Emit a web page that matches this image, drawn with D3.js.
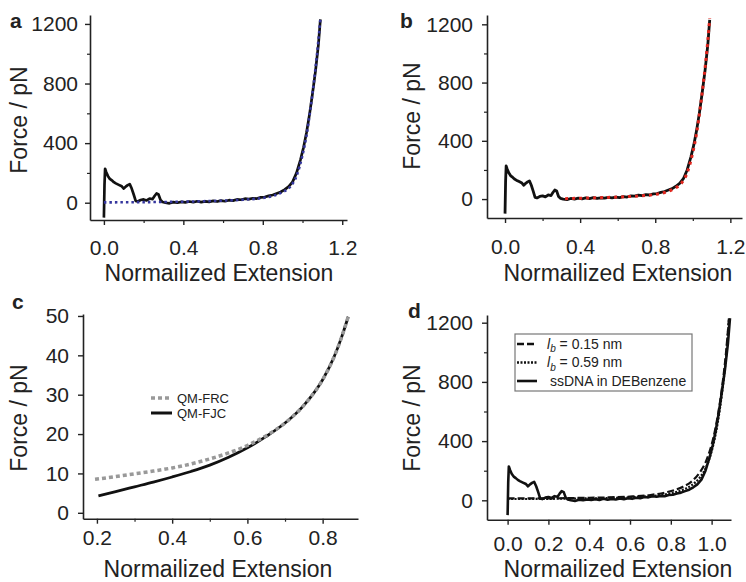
<!DOCTYPE html>
<html>
<head>
<meta charset="utf-8">
<script src="https://cdn.jsdelivr.net/npm/d3@7/dist/d3.min.js"></script>
<style>
  body { margin: 0; background: #fff; }
  svg text { font-family: "Liberation Sans", Arial, sans-serif; fill: #222; }
</style>
</head>
<body>
<div id="chart"></div>
<script>
// measured force-extension trace (same trace in a, b, d)
const expX = [0, 0.003, 0.006, 0.012, 0.02, 0.03, 0.04, 0.05, 0.06, 0.075, 0.09, 0.1, 0.11, 0.12, 0.13, 0.14, 0.15, 0.16, 0.17, 0.185, 0.2, 0.215, 0.23, 0.245, 0.255, 0.265, 0.275, 0.285, 0.295, 0.31, 0.33, 0.35, 0.37, 0.39, 0.41, 0.43, 0.45, 0.47, 0.49, 0.51, 0.53, 0.55, 0.57, 0.59, 0.61, 0.63, 0.65, 0.67, 0.69, 0.71, 0.73, 0.75, 0.77, 0.79, 0.81, 0.83, 0.85, 0.87, 0.89, 0.91, 0.93, 0.95, 0.97, 0.99, 1.005, 1.02, 1.035, 1.05, 1.065, 1.08, 1.09];
const expF = [-100, 120, 228, 205, 180, 160, 150, 138, 130, 120, 110, 95, 108, 118, 125, 95, 55, 12, 8, 18, 22, 15, 28, 24, 45, 62, 55, 18, 5, 0, -4, 4, 0, 6, 2, 8, 3, 10, 4, 9, 6, 12, 8, 14, 10, 17, 14, 22, 20, 27, 24, 30, 28, 36, 38, 46, 52, 62, 72, 88, 108, 140, 200, 290, 370, 470, 590, 730, 880, 1060, 1230];

// panel a fit (blue dotted)
const fitAX = [0, 0.1, 0.2, 0.3, 0.4, 0.5, 0.6, 0.7, 0.8, 0.85, 0.9, 0.94, 0.97, 1.0, 1.02, 1.04, 1.06, 1.08, 1.09];
const fitAF = [2, 3, 4, 5, 7, 10, 14, 20, 32, 45, 72, 110, 180, 320, 450, 630, 840, 1090, 1235];

// panel b fit (red dotted)
const fitBX = [0.32, 0.4, 0.5, 0.6, 0.7, 0.8, 0.85, 0.9, 0.94, 0.97, 1.0, 1.02, 1.04, 1.06, 1.08, 1.09];
const fitBF = [3, 6, 9, 14, 20, 32, 45, 72, 110, 180, 320, 450, 630, 840, 1090, 1240];

// panel c models
const frcX = [0.195, 0.25, 0.3, 0.35, 0.4, 0.45, 0.5, 0.55, 0.6, 0.65, 0.7, 0.75, 0.8, 0.83, 0.85, 0.868];
const frcF = [8.5, 9.2, 9.9, 10.6, 11.4, 12.4, 13.7, 15.2, 17.1, 19.6, 22.8, 27.3, 33.8, 39.5, 44.5, 49.8];
const fjcX = [0.204, 0.25, 0.3, 0.35, 0.4, 0.45, 0.5, 0.55, 0.6, 0.65, 0.7, 0.75, 0.8, 0.83, 0.85, 0.868];
const fjcF = [4.3, 5.4, 6.6, 7.8, 9.1, 10.5, 12.1, 14.1, 16.5, 19.4, 22.8, 27.3, 33.8, 39.5, 44.5, 49.8];

// panel d models
const lb015X = [0, 0.05, 0.1, 0.15, 0.2, 0.3, 0.4, 0.5, 0.6, 0.7, 0.78, 0.86, 0.9, 0.94, 0.97, 0.99, 1.01, 1.03, 1.05, 1.07, 1.085];
const lb015F = [13, 13, 13, 13, 13, 15, 17, 20, 25, 36, 55, 92, 125, 185, 255, 330, 430, 570, 750, 990, 1230];
const lb059X = [0, 0.05, 0.1, 0.15, 0.2, 0.3, 0.4, 0.5, 0.6, 0.7, 0.78, 0.86, 0.9, 0.94, 0.97, 0.99, 1.01, 1.03, 1.05, 1.07, 1.085];
const lb059F = [9, 9, 9, 10, 10, 12, 13, 16, 20, 28, 42, 72, 100, 150, 215, 285, 385, 525, 715, 960, 1225];

// ticks
const forceTicks = [0, 400, 800, 1200];
const forceMinor = [200, 600, 1000];
const extTicksAB = [0, 0.4, 0.8, 1.2];
const extMinorAB = [0.2, 0.6, 1.0];
const extTicksC = [0.2, 0.4, 0.6, 0.8];
const extMinorC = [0.3, 0.5, 0.7];
const forceTicksC = [0, 10, 20, 30, 40, 50];
const extTicksD = [0, 0.2, 0.4, 0.6, 0.8, 1.0];

const width = 746, height = 582;
const svg = d3.select('#chart').append('svg')
    .attr('width', width)
    .attr('height', height);

const zip = (xs, ys) => xs.map((x, i) => [x, ys[i]]);

function drawPanel(p) {
    const x = d3.scaleLinear().domain(p.xDom).range(p.xRange);
    const y = d3.scaleLinear().domain(p.yDom).range(p.yRange);
    const g = svg.append('g');

    // axes
    const xAxis = g.append('g')
        .attr('transform', `translate(0,${p.yRange[0]})`)
        .call(d3.axisBottom(x).tickValues(p.xTicks).tickFormat(d3.format('.1f'))
            .tickSize(5).tickSizeOuter(0).tickPadding(p.xPad));
    const yAxis = g.append('g')
        .attr('transform', `translate(${p.xRange[0]},0)`)
        .call(d3.axisLeft(y).tickValues(p.yTicks).tickFormat(d3.format('d'))
            .tickSize(5).tickSizeOuter(0).tickPadding(p.yPad));
    [xAxis, yAxis].forEach(a => {
        a.select('.domain').attr('stroke', '#222').attr('stroke-width', 1.6);
        a.selectAll('.tick line').attr('stroke', '#222').attr('stroke-width', 1.4);
        a.selectAll('.tick text').attr('font-size', 21).attr('fill', '#222');
    });
    if (p.xMinor) {
        g.append('g').attr('transform', `translate(0,${p.yRange[0]})`)
            .call(d3.axisBottom(x).tickValues(p.xMinor).tickFormat('').tickSize(3).tickSizeOuter(0))
            .call(a => a.select('.domain').remove())
            .selectAll('line').attr('stroke', '#222').attr('stroke-width', 1.2);
    }
    if (p.yMinor) {
        g.append('g').attr('transform', `translate(${p.xRange[0]},0)`)
            .call(d3.axisLeft(y).tickValues(p.yMinor).tickFormat('').tickSize(3).tickSizeOuter(0))
            .call(a => a.select('.domain').remove())
            .selectAll('line').attr('stroke', '#222').attr('stroke-width', 1.2);
    }

    // labels
    g.append('text')
        .attr('x', p.letter[0]).attr('y', p.letter[1])
        .attr('font-size', 21).attr('font-weight', 'bold')
        .text(p.id);
    g.append('text')
        .attr('transform', `translate(${p.yLab[0]},${p.yLab[1]}) rotate(-90)`)
        .attr('text-anchor', 'middle')
        .attr('font-size', 23)
        .text('Force / pN');
    g.append('text')
        .attr('x', p.xLab[0]).attr('y', p.xLab[1])
        .attr('text-anchor', 'middle')
        .attr('font-size', 23)
        .text('Normailized Extension');

    // series
    p.series.forEach(s => {
        const line = d3.line()
            .x(d => x(d[0]))
            .y(d => y(d[1]))
            .curve(s.smooth ? d3.curveMonotoneX : d3.curveLinear);
        g.append('path')
            .datum(zip(s.xs, s.ys))
            .attr('d', line)
            .attr('fill', 'none')
            .attr('stroke', s.color)
            .attr('stroke-width', s.width)
            .attr('stroke-dasharray', s.dash || null)
            .attr('stroke-linejoin', 'round');
    });
    return g;
}

drawPanel({
    id: 'a', xDom: [-0.07, 1.224], xRange: [90, 347], yDom: [-116, 1260], yRange: [220, 15],
    xTicks: extTicksAB, xMinor: extMinorAB, yTicks: forceTicks, yMinor: forceMinor,
    xPad: 15, yPad: 7, letter: [10, 28], yLab: [27, 120], xLab: [219, 281],
    series: [
        { xs: expX, ys: expF, color: '#111', width: 2.7 },
        { xs: fitAX, ys: fitAF, color: '#35369e', width: 2.6, dash: '2.5,3', smooth: true }
    ]
});

drawPanel({
    id: 'b', xDom: [-0.096, 1.262], xRange: [487, 742], yDom: [-130, 1264], yRange: [218, 15],
    xTicks: extTicksAB, xMinor: extMinorAB, yTicks: forceTicks, yMinor: forceMinor,
    xPad: 16, yPad: 9, letter: [400, 28], yLab: [420, 116], xLab: [618, 281],
    series: [
        { xs: expX, ys: expF, color: '#111', width: 2.8 },
        { xs: fitBX, ys: fitBF, color: '#e0261e', width: 3, dash: '3,4', smooth: true }
    ]
});

const gc = drawPanel({
    id: 'c', xDom: [0.163, 0.894], xRange: [83, 358], yDom: [-1.5, 50.5], yRange: [518.7, 314],
    xTicks: extTicksC, xMinor: extMinorC, yTicks: forceTicksC, yMinor: null,
    xPad: 6, yPad: 9, letter: [12, 309], yLab: [27, 418], xLab: [218, 577],
    series: [
        { xs: fjcX, ys: fjcF, color: '#111', width: 2.8, smooth: true },
        { xs: frcX, ys: frcF, color: '#999', width: 3.5, dash: '4,3', smooth: true }
    ]
});

const gd = drawPanel({
    id: 'd', xDom: [-0.101, 1.095], xRange: [487, 731], yDom: [-131, 1252], yRange: [519.7, 315],
    xTicks: extTicksD, xMinor: null, yTicks: forceTicks, yMinor: forceMinor,
    xPad: 11, yPad: 9, letter: [408, 318], yLab: [420, 418], xLab: [618, 577],
    series: [
        { xs: expX, ys: expF, color: '#111', width: 2.6 },
        { xs: lb015X, ys: lb015F, color: '#111', width: 2.2, dash: '7,3', smooth: true },
        { xs: lb059X, ys: lb059F, color: '#111', width: 2.2, dash: '2,1.5', smooth: true }
    ]
});

// legend c
const legendC = [
    { label: 'QM-FRC', color: '#999', width: 3.5, dash: '4,3' },
    { label: 'QM-FJC', color: '#111', width: 3, dash: null }
];
legendC.forEach((d, i) => {
    const yy = 398 + i * 15;
    gc.append('line').attr('x1', 151).attr('x2', 172).attr('y1', yy).attr('y2', yy)
        .attr('stroke', d.color).attr('stroke-width', d.width).attr('stroke-dasharray', d.dash);
    gc.append('text').attr('x', 177).attr('y', yy).attr('dy', '0.35em')
        .attr('font-size', 13).text(d.label);
});

// legend d
gd.append('rect')
    .attr('x', 515).attr('y', 334).attr('width', 177).attr('height', 57)
    .attr('fill', '#fff').attr('stroke', '#777').attr('stroke-width', 1.2);
const legendD = [
    { lb: '0.15', dash: '7,3' },
    { lb: '0.59', dash: '2,1.5' },
    { text: 'ssDNA in DEBenzene', dash: null }
];
legendD.forEach((d, i) => {
    const yy = 344 + i * 18.5;
    gd.append('line').attr('x1', 517).attr('x2', 537).attr('y1', yy).attr('y2', yy)
        .attr('stroke', '#111').attr('stroke-width', 2.6).attr('stroke-dasharray', d.dash);
    const t = gd.append('text').attr('x', d.text ? 550 : 547).attr('y', yy).attr('dy', '0.35em')
        .attr('font-size', 14);
    if (d.text) {
        t.text(d.text);
    } else {
        t.append('tspan').attr('font-style', 'italic').text('l');
        t.append('tspan').attr('font-style', 'italic').attr('font-size', 10).attr('dy', '0.35em').text('b');
        t.append('tspan').attr('dy', '-0.25em').text(' = ' + d.lb + ' nm');
    }
});
</script>
</body>
</html>
